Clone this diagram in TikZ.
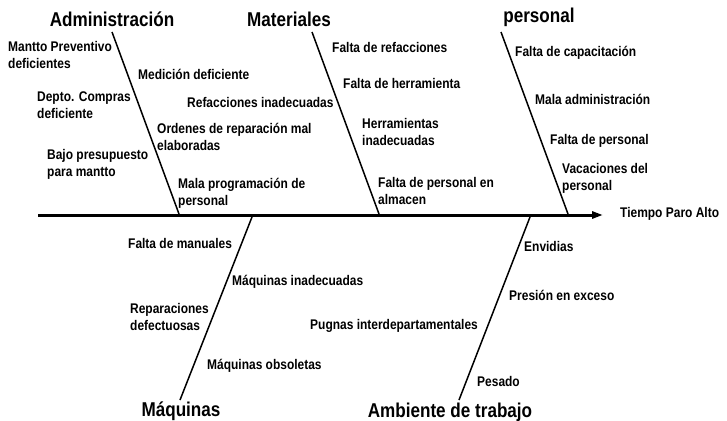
\documentclass[tikz,border=0pt]{standalone}
\usepackage{fontspec}
\setmainfont{Liberation Sans}
\newfontfamily\heavyfont{Liberation Sans Bold}[FakeStretch=0.855]
\usetikzlibrary{arrows.meta}
\begin{document}
\begin{tikzpicture}[x=1pt,y=-1pt,
  lbl/.style={anchor=west,inner sep=0pt,align=left,font=\heavyfont\fontsize{14}{17}\selectfont},
  ttl/.style={inner sep=0pt,font=\heavyfont\fontsize{20}{22}\selectfont},
  bone/.style={line width=1.5pt},
  spine/.style={line width=3pt,-{Triangle[length=11pt,width=7pt]}}]
\useasboundingbox (0,0) rectangle (727,420);
% spine
\coordinate (s0) at (38,215);
\coordinate (s1) at (603,215);
\node[lbl] (efecto) at (620,214) {Tiempo Paro Alto};
\draw[spine] (s0) -- (s1);
% bones
\coordinate (admT) at (112,32);  \coordinate (admB) at (179,214);
\coordinate (matT) at (312,32);  \coordinate (matB) at (379,214);
\coordinate (perT) at (501,32);  \coordinate (perB) at (568,214);
\coordinate (maqT) at (252,217); \coordinate (maqB) at (180,400);
\coordinate (ambT) at (530,217); \coordinate (ambB) at (459,400);
\draw[bone] (admT) -- (admB);
\draw[bone] (matT) -- (matB);
\draw[bone] (perT) -- (perB);
\draw[bone] (maqT) -- (maqB);
\draw[bone] (ambT) -- (ambB);
% titles
\node[ttl] (tadm) at (112,19) {Administración};
\node[ttl] (tmat) at (289,19) {Materiales};
\node[ttl] (tper) at (539,17) {personal};
\node[ttl] (tmaq) at (181,411) {Máquinas};
\node[ttl] (tamb) at (450,412) {Ambiente de trabajo};
% Administracion
\node[lbl] (a1) at (8,54.5) {Mantto Preventivo\\deficientes};
\node[lbl] (a2) at (37,105.5) {Depto. Compras\\deficiente};
\node[lbl] (a3) at (47,164) {Bajo presupuesto\\para mantto};
\node[lbl] (a4) at (138,74) {Medición deficiente};
\node[lbl] (a5) at (187,102) {Refacciones inadecuadas};
\node[lbl] (a6) at (157,136.5) {Ordenes de reparación mal\\elaboradas};
\node[lbl] (a7) at (178,193.5) {Mala programación de\\personal};
% Materiales
\node[lbl] (m1) at (332,47) {Falta de refacciones};
\node[lbl] (m2) at (343,83) {Falta de herramienta};
\node[lbl] (m3) at (362,132) {Herramientas\\inadecuadas};
\node[lbl] (m4) at (378,190.5) {Falta de personal en\\almacen};
% personal
\node[lbl] (p1) at (515,53) {Falta de capacitación};
\node[lbl] (p2) at (535,99) {Mala administración};
\node[lbl] (p3) at (550,141) {Falta de personal};
\node[lbl] (p4) at (562,178.5) {Vacaciones del\\personal};
% Maquinas
\node[lbl] (q1) at (128,243) {Falta de manuales};
\node[lbl] (q2) at (232,282) {Máquinas inadecuadas};
\node[lbl] (q3) at (130,316.5) {Reparaciones\\defectuosas};
\node[lbl] (q4) at (207,366) {Máquinas obsoletas};
% Ambiente
\node[lbl] (e1) at (524,246) {Envidias};
\node[lbl] (e2) at (509,295) {Presión en exceso};
\node[lbl] (e3) at (310,326) {Pugnas interdepartamentales};
\node[lbl] (e4) at (477,381) {Pesado};
\end{tikzpicture}
\end{document}
